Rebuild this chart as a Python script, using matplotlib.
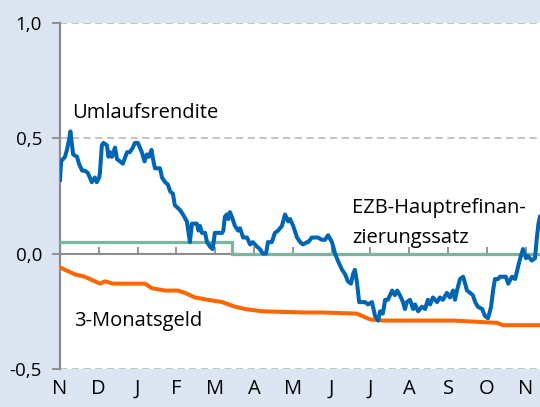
import matplotlib.pyplot as plt

plt.rcParams['font.family'] = ['Open Sans', 'DejaVu Sans']

# x positions in months since start of November (0 = 1 Nov)
month_labels = ['N', 'D', 'J', 'F', 'M', 'A', 'M', 'J', 'J', 'A', 'S', 'O', 'N']

umlauf_x = [0.00, 0.03, 0.13, 0.18, 0.23, 0.27, 0.34, 0.44, 0.49, 0.57, 0.64, 0.72, 0.82, 0.90,
            0.95, 1.01, 1.03, 1.08, 1.12, 1.21, 1.25, 1.29, 1.34, 1.42, 1.47, 1.55, 1.62, 1.73,
            1.80, 1.88, 1.93, 2.01, 2.11, 2.18, 2.24, 2.29, 2.36, 2.41, 2.45, 2.58, 2.63, 2.71,
            2.78, 2.84, 2.91, 2.96, 3.09, 3.17, 3.27, 3.35, 3.40, 3.53, 3.57, 3.61, 3.66, 3.74,
            3.79, 3.87, 3.93, 3.97, 3.99, 4.18, 4.21, 4.25, 4.30, 4.34, 4.38, 4.43, 4.51, 4.59,
            4.64, 4.72, 4.82, 4.90, 4.97, 5.08, 5.15, 5.23, 5.31, 5.36, 5.46, 5.50, 5.54, 5.62,
            5.72, 5.80, 5.88, 5.93, 6.01, 6.11, 6.19, 6.26, 6.37, 6.40, 6.49, 6.57, 6.65, 6.75,
            6.83, 6.91, 7.01, 7.09, 7.16, 7.27, 7.35, 7.42, 7.50, 7.55, 7.60, 7.65, 7.71, 7.78,
            7.86, 7.94, 8.04, 8.12, 8.20, 8.25, 8.32, 8.38, 8.45, 8.56, 8.63, 8.69, 8.76, 8.84,
            8.89, 8.94, 9.02, 9.10, 9.15, 9.23, 9.33, 9.41, 9.48, 9.54, 9.61, 9.72, 9.79, 9.87,
            9.97, 10.05, 10.13, 10.18, 10.23, 10.31, 10.39, 10.44, 10.49, 10.57, 10.64, 10.70,
            10.77, 10.88, 10.95, 11.03, 11.11, 11.16, 11.21, 11.29, 11.34, 11.42, 11.49, 11.55,
            11.65, 11.73, 11.80, 11.86, 11.90, 11.93, 12.01, 12.06, 12.16, 12.24, 12.29, 12.33,
            12.37]
umlauf_y = [0.32, 0.40, 0.42, 0.45, 0.49, 0.53, 0.43, 0.42, 0.39, 0.36, 0.36, 0.35, 0.31, 0.33,
            0.31, 0.33, 0.35, 0.47, 0.48, 0.47, 0.42, 0.44, 0.42, 0.46, 0.41, 0.40, 0.39, 0.44,
            0.44, 0.46, 0.48, 0.48, 0.44, 0.40, 0.43, 0.42, 0.45, 0.40, 0.37, 0.37, 0.33, 0.31,
            0.30, 0.27, 0.26, 0.21, 0.19, 0.17, 0.14, 0.05, 0.13, 0.13, 0.10, 0.12, 0.09, 0.09,
            0.05, 0.03, 0.02, 0.06, 0.09, 0.09, 0.10, 0.16, 0.17, 0.15, 0.18, 0.16, 0.12, 0.10,
            0.11, 0.07, 0.07, 0.04, 0.05, 0.03, 0.02, 0.00, -0.00, 0.05, 0.05, 0.07, 0.09, 0.10,
            0.12, 0.17, 0.14, 0.15, 0.12, 0.07, 0.05, 0.04, 0.05, 0.05, 0.07, 0.07, 0.07, 0.06,
            0.06, 0.08, 0.05, 0.00, -0.03, -0.07, -0.09, -0.12, -0.13, -0.09, -0.07, -0.12, -0.21, -0.21,
            -0.21, -0.22, -0.21, -0.27, -0.29, -0.25, -0.26, -0.20, -0.20, -0.16, -0.18, -0.16, -0.18, -0.21,
            -0.24, -0.21, -0.20, -0.24, -0.22, -0.25, -0.23, -0.24, -0.20, -0.22, -0.19, -0.21, -0.19, -0.20,
            -0.17, -0.19, -0.16, -0.20, -0.16, -0.11, -0.10, -0.13, -0.16, -0.17, -0.18, -0.21,
            -0.23, -0.24, -0.27, -0.28, -0.23, -0.16, -0.11, -0.11, -0.10, -0.10, -0.10, -0.13,
            -0.10, -0.11, -0.06, -0.02, 0.00, 0.02, -0.02, -0.01, -0.03, -0.02, 0.07, 0.13,
            0.16]

ezb_x = [0.00, 4.43, 4.43, 12.37]
ezb_y = [0.05, 0.05, 0.00, 0.00]

geld_x = [0.00, 0.13, 0.39, 0.64, 0.90, 1.03, 1.16, 1.37, 2.19, 2.37, 2.71, 3.04, 3.22, 3.48,
          3.81, 4.18, 4.51, 4.77, 5.21, 6.31, 6.78, 7.65, 7.99, 8.32, 10.13, 11.26, 11.42, 12.37]
geld_y = [-0.06, -0.07, -0.09, -0.10, -0.12, -0.13, -0.12, -0.13, -0.13, -0.15, -0.16, -0.16,
          -0.17, -0.19, -0.20, -0.21, -0.23, -0.24, -0.25, -0.255, -0.255, -0.26, -0.285, -0.29,
          -0.29, -0.30, -0.31, -0.31]

bg = '#dce6f2'

fig = plt.figure(figsize=(5.4, 4.07), dpi=100, facecolor=bg)
ax = fig.add_axes([0.111, 0.0934, 0.889, 0.8501])
ax.set_facecolor('white')

ax.plot(ezb_x, ezb_y, color='#7ab5a0', lw=2.3, solid_joinstyle='miter', zorder=3)
ax.plot(geld_x, geld_y, color='#ff6600', lw=2.9, zorder=3)
ax.plot(umlauf_x, umlauf_y, color='#0066b3', lw=2.9, zorder=4)

ax.set_xlim(0, 12.37)
ax.set_ylim(-0.5, 1.0)

# dashed grid lines
for v in [-0.5, 0.5, 1.0]:
    ax.axhline(v, color='#bfbfbf', lw=1.3, ls=(0, (4, 2.5)), zorder=1)

for s in ['top', 'right', 'bottom']:
    ax.spines[s].set_visible(False)
ax.spines['left'].set_color('#8c8c8c')
ax.spines['left'].set_linewidth(1.6)

ax.set_yticks([-0.5, 0.0, 0.5, 1.0])
ax.set_yticklabels(['-0,5', '0,0', '0,5', '1,0'], fontsize=13.5)
ax.tick_params(axis='y', length=6, width=1.3, color='#8c8c8c', pad=7)

ax.set_xticks(range(len(month_labels)))
ax.set_xticklabels(month_labels, fontsize=14.5)
ax.tick_params(axis='x', length=0, pad=7)

# zero line with month ticks pointing up
zero = ax.secondary_xaxis(1 / 3)
zero.set_xticks(range(len(month_labels)))
zero.tick_params(axis='x', direction='in', length=5, width=1.3, color='#8c8c8c', labelbottom=False)
zero.spines['bottom'].set_color('#8c8c8c')
zero.spines['bottom'].set_linewidth(1.5)

ax.text(0.31, 0.61, 'Umlaufsrendite', fontsize=14.5, va='center', ha='left')
ax.text(7.53, 0.20, 'EZB-Hauptrefinan-', fontsize=14.5, va='center', ha='left')
ax.text(7.53, 0.07, 'zierungssatz', fontsize=14.5, va='center', ha='left')
ax.text(0.36, -0.29, '3-Monatsgeld', fontsize=14.5, va='center', ha='left')

plt.savefig('out.png', dpi=100, facecolor=bg)
